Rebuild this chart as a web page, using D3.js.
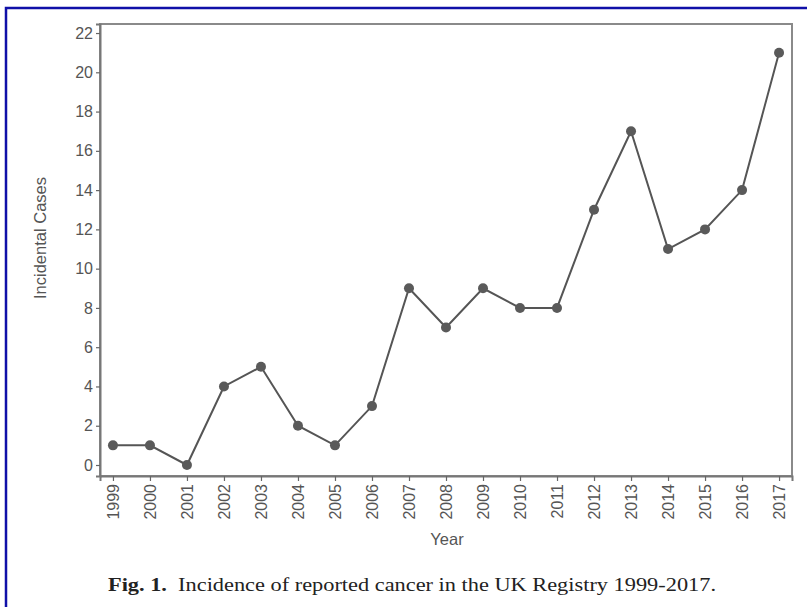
<!DOCTYPE html>
<html>
<head>
<meta charset="utf-8">
<script src="https://cdn.jsdelivr.net/npm/d3@7"></script>
<style>
  body { margin: 0; background: #fff; }
</style>
</head>
<body>
<script>
// data
var years = [1999, 2000, 2001, 2002, 2003, 2004, 2005, 2006, 2007, 2008,
             2009, 2010, 2011, 2012, 2013, 2014, 2015, 2016, 2017];
var cases = [1, 1, 0, 4, 5, 2, 1, 3, 9, 7, 9, 8, 8, 13, 17, 11, 12, 14, 21];
var yTicks = [0, 2, 4, 6, 8, 10, 12, 14, 16, 18, 20, 22];

var width = 807, height = 607;
var plotLeft = 100, plotRight = 792, plotTop = 24, plotBottom = 476;

var svg = d3.select("body").append("svg")
    .attr("width", width).attr("height", height);

// blue frame around the figure
svg.append("rect")
    .attr("x", 6).attr("y", 8)
    .attr("width", 820).attr("height", 640)
    .attr("fill", "none").attr("stroke", "#1010a8").attr("stroke-width", 2.5);

var x = d3.scaleLinear().domain([1998.65, 2017.35]).range([plotLeft, plotRight]);
var y = d3.scaleLinear().domain([-0.56, 22.46]).range([plotBottom, plotTop]);

// plot frame
svg.append("rect")
    .attr("x", plotLeft).attr("y", plotTop)
    .attr("width", plotRight - plotLeft).attr("height", plotBottom - plotTop)
    .attr("fill", "none").attr("stroke", "#8a8a8a").attr("stroke-width", 2);

// axes
var yAxis = d3.axisLeft(y).tickValues(yTicks).tickSize(4).tickPadding(3);
var xAxis = d3.axisBottom(x).tickValues(years).tickFormat(d3.format("d")).tickSize(5).tickPadding(3);

var gy = svg.append("g").attr("transform", "translate(" + plotLeft + ",0)").call(yAxis);
gy.select(".domain").attr("stroke", "#777").attr("stroke-width", 2);
gy.selectAll(".tick line").attr("stroke", "#666").attr("stroke-width", 1.2);
gy.selectAll(".tick text")
    .attr("font-family", "Liberation Sans, Arial, sans-serif")
    .attr("font-size", 16).attr("fill", "#555");

var gx = svg.append("g").attr("transform", "translate(0," + plotBottom + ")").call(xAxis);
gx.select(".domain").attr("stroke", "#777").attr("stroke-width", 2);
gx.selectAll(".tick line").attr("stroke", "#666").attr("stroke-width", 1.2);
gx.selectAll(".tick text")
    .attr("font-family", "Liberation Sans, Arial, sans-serif")
    .attr("font-size", 16).attr("fill", "#555")
    .attr("transform", "rotate(-90)")
    .attr("text-anchor", "end")
    .attr("x", -8).attr("y", 0).attr("dy", "0.35em");

// axis titles
svg.append("text")
    .attr("transform", "translate(46,238) rotate(-90)")
    .attr("text-anchor", "middle")
    .attr("font-family", "Liberation Sans, Arial, sans-serif")
    .attr("font-size", 16.5).attr("fill", "#555")
    .text("Incidental Cases");

svg.append("text")
    .attr("x", 447).attr("y", 545)
    .attr("text-anchor", "middle")
    .attr("font-family", "Liberation Sans, Arial, sans-serif")
    .attr("font-size", 16.5).attr("fill", "#555")
    .text("Year");

// line and points
var pts = years.map(function(d, i) { return [d, cases[i]]; });
var line = d3.line().x(function(d) { return x(d[0]); }).y(function(d) { return y(d[1]); });

svg.append("path").datum(pts)
    .attr("d", line)
    .attr("fill", "none").attr("stroke", "#555").attr("stroke-width", 2);

svg.selectAll("circle.pt").data(pts).enter().append("circle")
    .attr("class", "pt")
    .attr("cx", function(d) { return x(d[0]); })
    .attr("cy", function(d) { return y(d[1]); })
    .attr("r", 5)
    .attr("fill", "#5a5a5a");

// caption
var cap = svg.append("text")
    .attr("x", 108).attr("y", 591)
    .attr("textLength", 608).attr("lengthAdjust", "spacingAndGlyphs")
    .attr("font-family", "Liberation Serif, DejaVu Serif, serif")
    .attr("font-size", 19).attr("fill", "#222");
cap.append("tspan").attr("font-weight", "bold").text("Fig. 1.");
cap.append("tspan").text("\u00a0 Incidence of reported cancer in the UK Registry 1999-2017.");
</script>
</body>
</html>
